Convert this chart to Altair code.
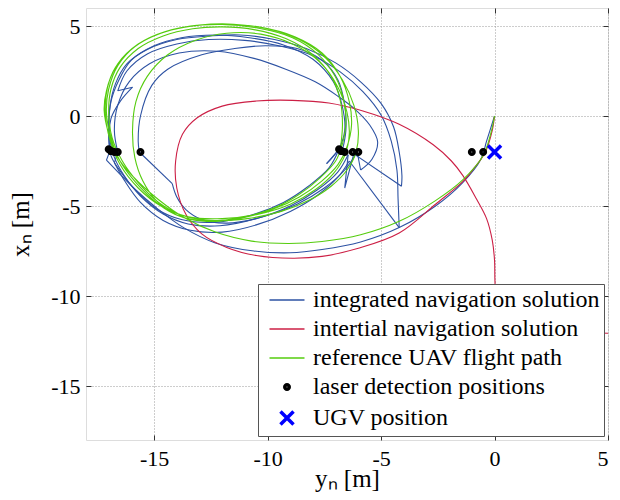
import altair as alt
import pandas as pd

SERIES = ["integrated navigation solution", "intertial navigation solution",
          "reference UAV flight path", "laser detection positions", "UGV position"]
COLORS = ["#2d52a3", "#cc1f45", "#55cc0e", "#000000", "#0000ff"]
SHAPES = ["M-2,0L2,0", "M-2,0L2,0", "M-2,0L2,0", "circle", "M-1,-1L1,1M-1,1L1,-1"]
SIZES = [306, 306, 306, 12, 170]
WIDTHS = [1.4, 1.4, 1.4, 4.5, 3.5]

# reference UAV flight path, points as (y_n, x_n)
green_path = [
    (0, 0), (-0.15, -0.9), (-0.5, -2.2), (-1.4, -3.55), (-2.6, -4.7), (-4.2, -5.85), (-5.9, -6.6),
    (-7.6, -6.97), (-9.1, -7.08), (-10.7, -6.95), (-12.3, -6.45), (-13.6, -5.7), (-14.8, -4.65),
    (-15.9, -3.4), (-16.6, -2.3), (-17.0, -1.0), (-17.2, 0.3), (-17.1, 1.4), (-16.7, 2.7),
    (-15.9, 3.8), (-14.8, 4.55), (-13.6, 4.95), (-12.0, 5.08), (-10.5, 4.9), (-8.9, 4.35),
    (-7.8, 3.45), (-7.0, 2.15), (-6.64, 0.85), (-6.55, -0.45), (-6.7, -1.55), (-7.0, -2.5),
    (-7.7, -3.45), (-8.6, -4.35), (-9.7, -5.1), (-11.2, -5.65), (-12.8, -5.8), (-13.9, -5.55),
    (-14.8, -4.9), (-15.8, -3.7), (-16.5, -2.5), (-16.9, -1.2), (-17.1, 0.2), (-17.0, 1.5),
    (-16.6, 2.8), (-15.8, 3.9), (-14.7, 4.6), (-13.4, 5.0), (-12.0, 5.1), (-10.4, 4.95),
    (-8.8, 4.4), (-7.6, 3.5), (-6.8, 2.2), (-6.4, 0.8), (-6.3, -0.5), (-6.5, -1.7), (-6.9, -2.7),
    (-7.6, -3.6), (-8.6, -4.5), (-9.8, -5.2), (-11.3, -5.7), (-12.8, -5.85), (-14.0, -5.5),
    (-14.9, -4.7), (-15.5, -3.6), (-15.85, -2.3), (-15.95, -0.8), (-15.8, 0.8), (-15.3, 2.2),
    (-14.4, 3.4), (-13.2, 4.2), (-11.8, 4.6), (-10.3, 4.55), (-8.9, 4.0), (-7.7, 3.0),
    (-6.9, 1.6), (-6.5, 0.2), (-6.4, -1.0), (-6.6, -2.2), (-7.1, -3.2), (-7.9, -4.1),
    (-9.0, -4.9), (-10.4, -5.45), (-12.0, -5.7), (-13.5, -5.6), (-14.7, -5.0), (-15.7, -4.0),
    (-16.5, -2.7), (-16.95, -1.3), (-17.15, 0.2), (-17.05, 1.6), (-16.6, 2.9), (-15.7, 4.0),
    (-14.5, 4.7), (-13.0, 5.05), (-11.5, 5.1), (-10.0, 4.85), (-8.6, 4.25), (-7.5, 3.3),
    (-6.7, 2.0), (-6.2, 0.6), (-6.0, -0.8), (-6.1, -2.0), (-6.5, -3.0), (-7.2, -3.9),
    (-8.2, -4.7), (-9.4, -5.3), (-10.9, -5.7), (-12.5, -5.8), (-13.8, -5.5), (-14.8, -4.8),
    (-15.7, -3.7), (-16.4, -2.5), (-16.85, -1.2), (-17.0, 0.2), (-16.9, 1.5), (-16.5, 2.7),
    (-15.7, 3.75), (-14.6, 4.45), (-13.3, 4.85), (-12.0, 4.95), (-10.6, 4.8), (-9.2, 4.3),
    (-8.0, 3.4), (-7.2, 2.2), (-6.8, 0.9), (-6.7, -0.5), (-6.8, -1.9),
]

# inertial navigation solution
red_path = [
    (0, 0), (-0.1, -0.8), (-0.4, -2.0), (-0.9, -2.9), (-1.4, -3.65), (-2.6, -4.9), (-4.2, -6.5),
    (-6.0, -7.35), (-7.6, -7.8), (-8.9, -7.9), (-10.5, -7.75), (-11.8, -7.3), (-12.9, -6.55),
    (-13.6, -5.46), (-14.0, -4.0), (-14.05, -2.5), (-13.75, -1.02), (-13.1, -0.1), (-12.0, 0.55),
    (-10.5, 0.83), (-8.9, 0.87), (-7.3, 0.72), (-5.8, 0.28), (-4.2, -0.46), (-2.7, -1.6),
    (-1.9, -2.5), (-1.4, -3.3), (-0.8, -4.6), (-0.35, -5.7), (-0.1, -6.9), (0.0, -8.0),
    (0.02, -9.2), (0.1, -10.3), (0.6, -11.1), (1.6, -11.6), (3.0, -11.9), (5.5, -12.1),
]

# integrated navigation solution: smooth arcs and straight correction jumps
blue_arcs = [
    [(0, 0), (-0.35, -1.4), (-0.6, -2.4), (-1.4, -3.7), (-2.6, -5.0), (-4.2, -6.2), (-5.9, -7.0),
     (-7.6, -7.42), (-9.0, -7.6), (-10.6, -7.5), (-12.3, -7.05), (-13.7, -6.2), (-14.9, -5.1),
     (-15.9, -4.0), (-16.6, -3.1), (-17.1, -2.45)],
    [(-16.95, -1.95), (-17.0, -0.6), (-16.9, 0.8), (-16.55, 2.0), (-16.0, 3.1), (-15.0, 3.9),
     (-13.8, 4.35), (-12.3, 4.5), (-10.8, 4.35), (-9.3, 3.95), (-8.0, 3.15), (-7.1, 1.9),
     (-6.7, 0.5), (-6.6, -0.8), (-6.85, -1.8), (-7.4, -2.65)],
    [(-6.85, -1.85), (-7.3, -2.9), (-8.2, -3.9), (-9.3, -4.8), (-10.7, -5.5), (-12.3, -5.9),
     (-13.8, -5.75), (-14.9, -5.15), (-15.8, -4.15), (-16.5, -3.05), (-16.9, -2.2), (-17.0, -1.0),
     (-16.95, 0.5), (-16.7, 1.8), (-16.2, 2.9), (-15.3, 3.7), (-14.0, 4.25), (-12.5, 4.45),
     (-11.2, 4.5), (-9.7, 4.25), (-8.3, 3.75), (-7.0, 2.95), (-5.9, 1.9), (-5.0, 0.7),
     (-4.45, -0.6), (-4.2, -2.0), (-4.08, -3.3), (-4.1, -3.9)],
    [(-6.45, -2.15), (-6.9, -3.1), (-7.8, -4.1), (-9.0, -5.0), (-10.5, -5.7), (-12.1, -6.1),
     (-13.5, -6.0), (-14.6, -5.45), (-15.6, -4.45), (-16.3, -3.35), (-16.75, -2.3),
     (-16.95, -1.3), (-16.9, -0.15), (-16.5, 0.8), (-15.95, 1.6)],
    [(-16.6, 1.4), (-16.2, 2.5), (-15.3, 3.45), (-14.0, 4.0), (-12.6, 4.25), (-11.0, 4.2),
     (-9.5, 3.9), (-8.0, 3.35), (-6.8, 2.45), (-5.8, 1.35), (-5.0, 0.05), (-4.55, -1.4),
     (-4.3, -3.0), (-4.25, -4.6), (-4.2, -6.2)],
    [(-6.4, -2.5), (-6.9, -3.4), (-7.8, -4.4), (-9.0, -5.3), (-10.5, -6.05), (-12.0, -6.45),
     (-13.4, -6.35), (-14.6, -5.8), (-15.6, -4.8), (-16.3, -3.6), (-16.75, -2.6)],
    [(-16.6, -2.0), (-16.75, -0.8), (-16.6, 0.6), (-16.1, 1.9), (-15.2, 2.9), (-13.9, 3.5),
     (-12.2, 3.6), (-10.6, 3.2), (-9.2, 2.6), (-7.9, 1.9), (-6.9, 1.1), (-6.17, 0.4),
     (-5.5, -0.5), (-5.15, -1.44), (-5.4, -2.4), (-5.9, -3.0)],
    [(-6.05, -2.0), (-6.6, -3.0), (-7.5, -4.0), (-8.7, -4.9), (-10.2, -5.6), (-11.8, -5.95),
     (-12.9, -5.75), (-13.6, -5.2), (-14.0, -4.5), (-14.2, -3.76)],
    [(-15.65, -2.0), (-15.7, -1.4), (-15.6, 0.0), (-15.1, 1.7), (-14.4, 2.6), (-12.9, 3.4),
     (-11.45, 3.75), (-10.1, 3.9), (-8.7, 3.75), (-7.6, 3.1), (-6.9, 2.0), (-6.6, 0.6),
     (-6.55, -0.8), (-6.7, -1.9)],
]
blue_jumps = [
    [(-17.1, -2.45), (-16.95, -1.95)],
    [(-7.4, -2.65), (-6.85, -1.85)],
    [(-4.1, -3.9), (-6.2, -2.1), (-6.6, -4.0), (-6.45, -2.15)],
    [(-15.95, 1.6), (-16.6, 1.4)],
    [(-4.2, -6.2), (-6.4, -2.5)],
    [(-16.75, -2.6), (-16.6, -2.0)],
    [(-5.9, -3.0), (-6.05, -2.0)],
    [(-14.2, -3.76), (-15.65, -2.0)],
]

# laser detection positions
det_yn = [-17.0, -16.9, -16.75, -16.6, -15.6, -6.85, -6.75, -6.6, -6.25, -6.0, -1.0, -0.5]
det_xn = [-1.85, -1.95, -2.0, -2.0, -2.0, -1.85, -1.95, -2.0, -2.0, -2.0, -2.0, -2.0]
# UGV position
ugv_yn = [0.0]
ugv_xn = [-2.0]

X_TICKS = [-15, -10, -5, 0, 5]
Y_TICKS = [5, 0, -5, -10, -15]
FONT = "Liberation Serif, Times New Roman, serif"


def rows(paths, prefix):
    out = []
    for s, path in enumerate(paths):
        for i, (yn, xn) in enumerate(path):
            out.append({"seg": f"{prefix}{s}", "order": i, "yn": yn, "xn": xn})
    return pd.DataFrame(out)


blue_s = rows(blue_arcs, "b")
blue_j = rows(blue_jumps, "j")
red_df = rows([red_path], "r")
green_df = rows([green_path], "g")
points = pd.DataFrame({
    "yn": det_yn + ugv_yn,
    "xn": det_xn + ugv_xn,
    "series": [SERIES[3]] * len(det_yn) + [SERIES[4]] * len(ugv_yn),
})

xscale = alt.Scale(domain=[-18, 5], nice=False, zero=False)
yscale = alt.Scale(domain=[-18, 6], nice=False, zero=False)

legend = alt.Legend(
    title=None, orient="bottom-right", offset=4, fillColor="white", strokeColor="#555555",
    padding=4, labelFont=FONT, labelFontSize=24, labelColor="black", labelLimit=500,
    rowPadding=5, labelOffset=14, symbolOffset=13, symbolOpacity=1,
)

lab = dict(labelFont=FONT, labelFontSize=22, labelColor="black", labelExpr="'' + datum.value")
main_x = alt.Axis(orient="bottom", values=X_TICKS, grid=True, gridDash=[1, 2], gridColor="#9a9a9a",
                  ticks=False, domain=False, labelPadding=8, title="yₙ [m]", titleFont=FONT,
                  titleFontSize=25, titleFontWeight="normal", titleColor="black", titlePadding=-3, **lab)
main_y = alt.Axis(orient="left", values=Y_TICKS, grid=True, gridDash=[1, 2], gridColor="#9a9a9a",
                  ticks=False, domain=False, labelPadding=6, title="xₙ [m]", titleFont=FONT,
                  titleFontSize=25, titleFontWeight="normal", titleColor="black", titlePadding=17, **lab)


def tick_axis(orient, vals):
    return alt.Axis(orient=orient, values=vals, grid=False, labels=False, domain=False, title=None,
                    ticks=True, tickSize=5, offset=-5, tickColor="#333333")


def xy(ax_x=None, ax_y=None):
    return dict(
        x=alt.X("yn:Q", scale=xscale, axis=ax_x),
        y=alt.Y("xn:Q", scale=yscale, axis=ax_y),
    )


order = alt.Order("order:Q")


def line(df, color, ax_x=None, ax_y=None, interp="catmull-rom"):
    return alt.Chart(df).mark_line(interpolate=interp, strokeWidth=1.1, clip=True, color=color).encode(
        detail="seg:N", order=order, **xy(ax_x, ax_y))


blue_smooth = line(blue_s, COLORS[0], main_x, main_y)
blue_straight = line(blue_j, COLORS[0], tick_axis("bottom", X_TICKS), tick_axis("left", Y_TICKS),
                     interp="linear")
red_line = line(red_df, COLORS[1], tick_axis("top", X_TICKS), tick_axis("right", Y_TICKS))
green_line = line(green_df, COLORS[2])

enc_common = dict(
    color=alt.Color("series:N", scale=alt.Scale(domain=SERIES, range=COLORS), legend=legend),
    shape=alt.Shape("series:N", scale=alt.Scale(domain=SERIES, range=SHAPES), legend=legend),
    size=alt.Size("series:N", scale=alt.Scale(type="ordinal", domain=SERIES, range=SIZES),
                  legend=legend),
    strokeWidth=alt.StrokeWidth("series:N", scale=alt.Scale(type="ordinal", domain=SERIES,
                                                            range=WIDTHS), legend=legend),
)
point_layer = alt.Chart(points).mark_point(filled=False, opacity=1).encode(
    **xy(None, None), **enc_common)

chart = alt.layer(blue_smooth, blue_straight, red_line, green_line, point_layer).resolve_axis(
    x="independent", y="independent"
).properties(
    width=522, height=432, autosize="none",
    padding={"left": 78, "top": 0, "right": 4, "bottom": 60},
).configure_view(stroke="#333333", strokeWidth=1).configure(background="white")

chart.save("out.html", embed_options={"renderer": "svg", "actions": False})
